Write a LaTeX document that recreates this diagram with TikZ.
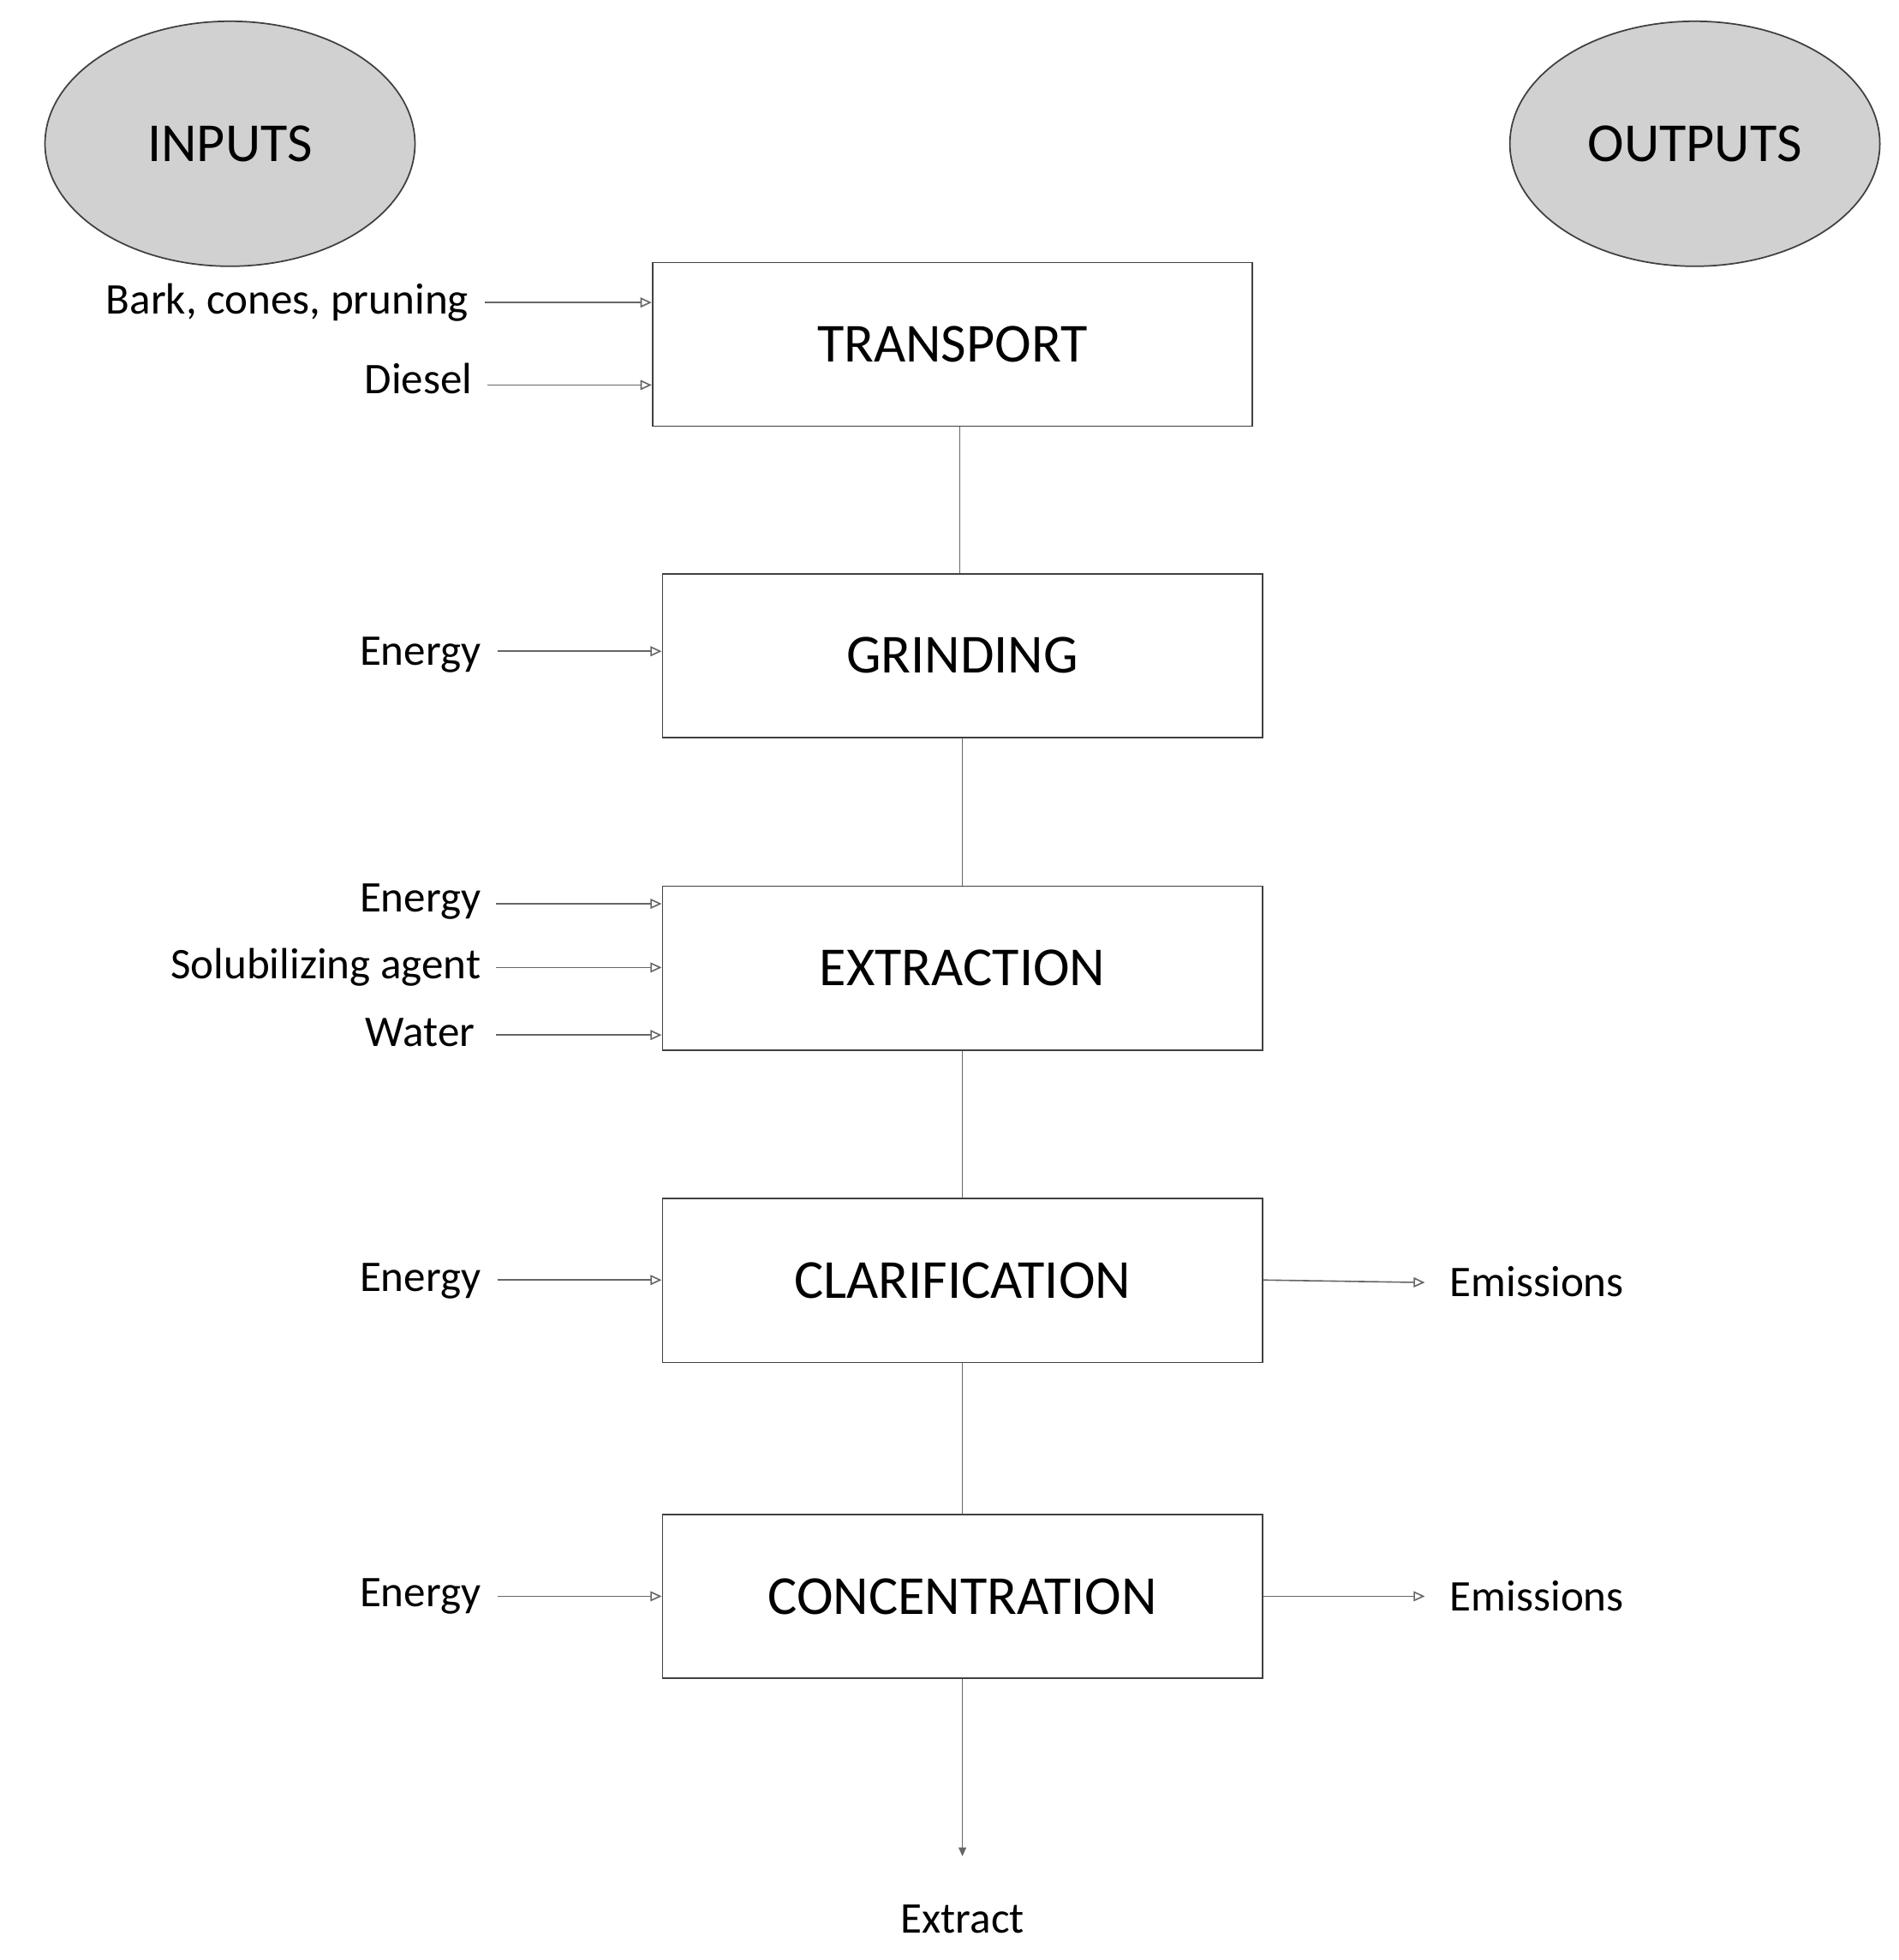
\documentclass[tikz,border=0pt]{standalone}
\usepackage{fontspec}
\setmainfont{Carlito}
\usetikzlibrary{arrows.meta,shapes.geometric}
\begin{document}
\begin{tikzpicture}[x=1pt,y=-1pt,
  box/.style={draw=black!75,line width=1.2pt,minimum width=480pt,minimum height=131pt,font=\fontsize{44}{50}\selectfont,inner sep=0},
  oval/.style={ellipse,draw=black!75,fill=black!18,line width=1.2pt,minimum width=296pt,minimum height=196pt,font=\fontsize{44}{50}\selectfont},
  lab/.style={font=\fontsize{35}{40}\selectfont,inner sep=0},
  inarr/.style={draw=black!60,line width=1.1pt,-{Triangle[open,length=9pt,width=8pt]}},
  link/.style={draw=black!60,line width=1.1pt}]
\useasboundingbox (0,0) rectangle (1519,1568);
\node[oval] (in) at (184,115) {INPUTS};
\node[oval] (out) at (1356,115) {OUTPUTS};
\node[box] (tr) at (762,275.5) {TRANSPORT};
\node[box] (gr) at (770,524.5) {GRINDING};
\node[box] (ex) at (770,774.5) {EXTRACTION};
\node[box] (cl) at (770,1024.5) {CLARIFICATION};
\node[box] (co) at (770,1277) {CONCENTRATION};
\draw[link] (tr.south -| 768,0) -- (gr.north -| 768,0);
\draw[link] (gr) -- (ex);
\draw[link] (ex) -- (cl);
\draw[link] (cl) -- (co);
\coordinate (endx) at (770,1485);
\draw[link,-{Triangle[length=7pt,width=6pt]}] (co.south) -- (endx);
\node[lab] (xt) at (770,1535) {Extract};
% inputs
\node[lab,anchor=east] (b1) at (375,242) {Bark, cones, pruning};
\node[lab,anchor=east] (b2) at (378,303) {Diesel};
\draw[inarr] (388,242) -- (tr.west |- 0,242);
\draw[inarr] (390,308) -- (tr.west |- 0,308);
\node[lab,anchor=east] (g1) at (385,524) {Energy};
\draw[inarr] (398,521) -- (gr.west |- 0,521);
\node[lab,anchor=east] (e1) at (385,721) {Energy};
\node[lab,anchor=east] (e2) at (385,774) {Solubilizing agent};
\node[lab,anchor=east] (e3) at (380,826) {Water};
\draw[inarr] (397,723) -- (ex.west |- 0,723);
\draw[inarr] (397,774) -- (ex.west |- 0,774);
\draw[inarr] (397,828) -- (ex.west |- 0,828);
\node[lab,anchor=east] (c1) at (385,1025) {Energy};
\draw[inarr] (398,1024) -- (cl.west |- 0,1024);
\node[lab,anchor=west] (c2) at (1160,1025) {Emissions};
\draw[inarr] (cl.east |- 0,1024) -- (1140,1026);
\node[lab,anchor=east] (k1) at (385,1277) {Energy};
\draw[inarr] (398,1277) -- (co.west |- 0,1277);
\node[lab,anchor=west] (k2) at (1160,1277) {Emissions};
\draw[inarr] (co.east |- 0,1277) -- (1140,1277);
\end{tikzpicture}
\end{document}
